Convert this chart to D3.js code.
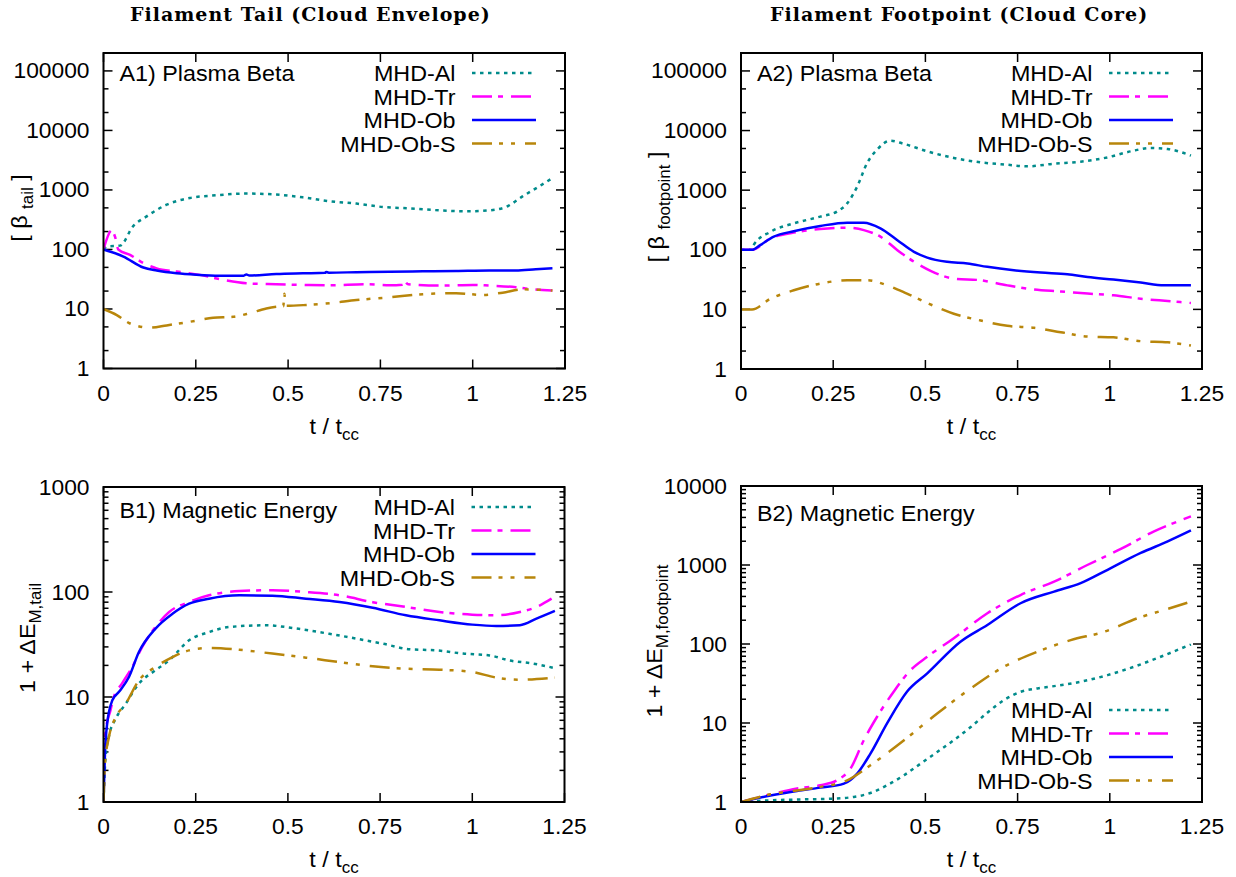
<!DOCTYPE html>
<html><head><meta charset="utf-8">
<script src="https://cdn.jsdelivr.net/npm/d3@7"></script>
<style>
body{margin:0;background:#fff}
svg{display:block}
</style>
</head><body>
<svg id="chart" width="1236" height="877"></svg>
<script>
// ---------------- data ----------------
const xTicks = [0, 0.25, 0.5, 0.75, 1, 1.25];
const xTickLabels = ["0", "0.25", "0.5", "0.75", "1", "1.25"];
const seriesNames = ["MHD-Al", "MHD-Tr", "MHD-Ob", "MHD-Ob-S"];
const seriesColors = ["#008b8b", "#ff00ff", "#0000ff", "#b8860b"];
const seriesDash = ["3.5,4.5", "20,6,5,8", null, "20,7,4,8,4,10"];
const columnTitles = ["Filament Tail (Cloud Envelope)", "Filament Footpoint (Cloud Core)"];
const panelLabels = ["A1) Plasma Beta", "A2) Plasma Beta", "B1) Magnetic Energy", "B2) Magnetic Energy"];
const betaTicks = [1, 10, 100, 1000, 10000, 100000];
const emagTailTicks = [1, 10, 100, 1000];
const emagFootTicks = [1, 10, 100, 1000, 10000];

// A1: plasma beta, filament tail  [t/tcc, beta]
const betaTailAl = [[0,100],[0.01,112],[0.045,116],[0.08,245],[0.117,360],[0.171,565],[0.234,733],[0.306,813],[0.387,870],[0.468,835],[0.54,752],[0.613,645],[0.685,590],[0.757,517],[0.829,490],[0.91,454],[0.982,437],[1.045,454],[1.09,517],[1.135,780],[1.18,1150],[1.216,1585]];
const betaTailTr = [[0,100],[0.0225,209],[0.0315,162],[0.04,100],[0.072,81],[0.108,59],[0.144,48],[0.198,42.6],[0.261,37.4],[0.324,30.8],[0.387,27],[0.468,26],[0.54,25.4],[0.613,25],[0.71,26],[0.775,25],[0.81,25.5],[0.815,29],[0.825,26],[0.91,24.7],[1.0,25.4],[1.045,24.7],[1.117,23.2],[1.162,21.5],[1.216,20.4]];
const betaTailOb = [[0,100],[0.054,76],[0.108,49.7],[0.144,44.3],[0.198,39.8],[0.261,37.4],[0.324,36],[0.38,36.3],[0.387,38],[0.395,36.5],[0.468,38.8],[0.54,39.8],[0.6,40.5],[0.603,42],[0.61,40.8],[0.685,41.5],[0.775,42.4],[0.865,43],[0.955,43.6],[1.045,44.3],[1.117,44.3],[1.171,46.6],[1.216,48.5]];
const betaTailObS = [[0,10],[0.036,7.9],[0.072,5.7],[0.126,4.85],[0.171,5.3],[0.234,6.1],[0.297,7.1],[0.351,7.4],[0.396,8.5],[0.441,10.2],[0.477,11],[0.487,11.1],[0.49,18],[0.493,11.3],[0.55,11.7],[0.613,12.5],[0.685,14.1],[0.775,15.7],[0.865,17.7],[0.955,18.4],[1.027,17.2],[1.081,18.8],[1.135,21.4],[1.216,20.4]];

// A2: plasma beta, filament footpoint
const betaFootAl = [[0,100],[0.03,100],[0.034,120],[0.08,200],[0.143,277],[0.215,360],[0.26,437],[0.288,600],[0.315,1150],[0.342,2850],[0.369,4790],[0.405,6780],[0.44,6030],[0.505,4480],[0.577,3470],[0.65,2925],[0.722,2670],[0.776,2510],[0.849,2780],[0.921,3000],[0.994,3550],[1.057,4480],[1.111,5100],[1.157,4900],[1.22,3800]];
const betaFootTr = [[0,100],[0.03,100],[0.08,155],[0.143,194],[0.215,223],[0.288,235],[0.333,214],[0.378,166],[0.424,98.6],[0.469,63],[0.514,44.3],[0.577,32.9],[0.65,30.8],[0.722,25.3],[0.795,21.5],[0.867,20],[0.94,18.4],[1.01,17.2],[1.084,15.1],[1.157,13.8],[1.22,12.8]];
const betaFootOb = [[0,100],[0.03,100],[0.052,120],[0.089,166],[0.143,205],[0.215,251],[0.288,285],[0.333,285],[0.378,229],[0.424,145],[0.469,92.5],[0.505,74],[0.559,62.8],[0.614,58.9],[0.668,51.7],[0.74,45.4],[0.813,41.5],[0.885,38.9],[0.94,35],[1.01,31.6],[1.084,28.2],[1.147,25.4],[1.22,25.4]];
const betaFootObS = [[0,10],[0.03,10],[0.08,15.1],[0.143,20.9],[0.215,27.1],[0.288,30.8],[0.342,30.8],[0.396,25.4],[0.45,18.4],[0.505,12.8],[0.577,8.45],[0.65,6.5],[0.722,5.3],[0.795,4.9],[0.867,4.15],[0.94,3.5],[1.01,3.4],[1.084,2.93],[1.157,2.8],[1.22,2.47]];

// B1: 1 + dE_M, filament tail
const emagTailAl = [[0,1],[0.005,2.5],[0.0145,4.2],[0.033,6.2],[0.06,8.6],[0.096,13.4],[0.141,18],[0.178,22.3],[0.232,34.7],[0.286,41.5],[0.34,46.4],[0.44,48.2],[0.522,44.9],[0.612,40],[0.685,36],[0.757,32.2],[0.83,28.5],[0.902,27.8],[0.975,25.9],[1.047,24.9],[1.1,22.3],[1.165,20.8],[1.219,19]];
const emagTailTr = [[0,1],[0.005,4.5],[0.019,7.5],[0.028,10],[0.05,13.4],[0.078,19.3],[0.105,30],[0.141,46.4],[0.178,64.5],[0.232,80.3],[0.286,93],[0.368,102],[0.458,104],[0.549,100],[0.64,93],[0.73,80],[0.82,72],[0.911,64.5],[1.0,60.8],[1.065,60],[1.129,64.5],[1.174,72],[1.215,86.4]];
const emagTailOb = [[0,1],[0.004,2.9],[0.01,5.6],[0.024,9.3],[0.042,11.2],[0.069,15.5],[0.096,26.8],[0.141,44.8],[0.187,62],[0.232,77.4],[0.286,86.4],[0.368,93],[0.458,92.3],[0.549,86.4],[0.64,80.3],[0.73,70.8],[0.82,60],[0.911,53.7],[1.0,48.9],[1.065,47.4],[1.129,48.2],[1.174,55.7],[1.224,66]];
const emagTailObS = [[0,1],[0.004,2.3],[0.015,4.2],[0.033,6.4],[0.06,8.6],[0.096,14.4],[0.141,19.3],[0.187,24],[0.232,27.8],[0.286,29.3],[0.368,28.2],[0.458,25.9],[0.549,23.7],[0.64,21.5],[0.73,19.6],[0.82,18.6],[0.911,18.2],[1.0,17.3],[1.065,15.3],[1.129,14.6],[1.224,15.3]];

// B2: 1 + dE_M, filament footpoint
const emagFootAl = [[0,1],[0.08,1.05],[0.17,1.08],[0.243,1.1],[0.306,1.16],[0.351,1.3],[0.396,1.63],[0.442,2.18],[0.487,3.06],[0.532,4.3],[0.577,6.06],[0.623,8.9],[0.668,13.5],[0.713,19.5],[0.758,24.8],[0.804,27.4],[0.849,29.3],[0.921,33.3],[0.994,40.4],[1.066,51.6],[1.138,69],[1.22,99]];
const emagFootTr = [[0,1],[0.08,1.25],[0.152,1.48],[0.215,1.63],[0.26,1.88],[0.297,2.65],[0.333,6.06],[0.369,12],[0.414,24.9],[0.46,46.8],[0.505,69],[0.577,118],[0.668,245],[0.758,417],[0.849,617],[0.939,1000],[1.03,1600],[1.12,2660],[1.22,4120]];
const emagFootOb = [[0,1],[0.08,1.21],[0.152,1.38],[0.215,1.52],[0.279,1.71],[0.315,2.29],[0.351,4.1],[0.396,9.9],[0.45,24.9],[0.505,42.5],[0.595,107],[0.668,174],[0.758,328],[0.849,461],[0.921,589],[0.994,870],[1.084,1420],[1.157,1990],[1.22,2737]];
const emagFootObS = [[0,1],[0.08,1.25],[0.152,1.4],[0.215,1.55],[0.288,1.88],[0.351,2.92],[0.442,6.06],[0.532,13.2],[0.623,27.4],[0.713,51.6],[0.804,80],[0.894,112],[0.985,143],[1.075,212],[1.148,270],[1.22,344]];

// ---------------- drawing ----------------
const SANS = "'Liberation Sans', Arial, Helvetica, sans-serif";
const SX = 1.06;   // horizontal stretch of the sans text, as in the original rendering
const svg = d3.select("#chart");
svg.append("rect").attr("width",1236).attr("height",877).attr("fill","#fff");

const panels = [
  {box:[103.5,565,53,368.5], yDomain:[1,2e5], yTicks:betaTicks, minor:[2,5],
   series:[betaTailAl,betaTailTr,betaTailOb,betaTailObS], label:panelLabels[0], labelDy:28,
   legendTop:true, ylab:[["[ β ",0],["tail",1],[" ]",0]], ylabX:27, ylabY:208},
  {box:[741,1202,53,369], yDomain:[1,2e5], yTicks:betaTicks, minor:[2,5],
   series:[betaFootAl,betaFootTr,betaFootOb,betaFootObS], label:panelLabels[1], labelDy:28,
   legendTop:true, ylab:[["[ β ",0],["footpoint",1],[" ]",0]], ylabX:664, ylabY:207},
  {box:[103.5,564.5,487,802], yDomain:[1,1000], yTicks:emagTailTicks, minor:[2,3,4,5,6,7,8,9],
   series:[emagTailAl,emagTailTr,emagTailOb,emagTailObS], label:panelLabels[2], labelDy:31,
   legendTop:true, ylab:[["1 + ΔE",0],["M,tail",1]], ylabX:35, ylabY:638},
  {box:[741,1202,486,802], yDomain:[1,10000], yTicks:emagFootTicks, minor:[2,3,4,5,6,7,8,9],
   series:[emagFootAl,emagFootTr,emagFootOb,emagFootObS], label:panelLabels[3], labelDy:35,
   legendTop:false, ylab:[["1 + ΔE",0],["M,footpoint",1]], ylabX:662, ylabY:641}
];

function sansText(g, x, y, anchor, size, rot){
  return g.append("text")
    .attr("transform", `translate(${x},${y})` + (rot?` rotate(${rot})`:"") + ` scale(${SX},1)`)
    .attr("text-anchor", anchor).attr("font-size", size)
    .style("font-family", SANS).attr("fill","#000");
}
function richText(t, parts, size, subSize, subDy){
  parts.forEach(([s,sub],i)=>{
    const prevSub = i>0 && parts[i-1][1];
    const ts = t.append("tspan").text(s).attr("font-size", sub?subSize:size);
    if(sub) ts.attr("dy", subDy);
    else if(prevSub) ts.attr("dy", -subDy);
  });
}

panels.forEach((p,pi)=>{
  const [L,R,T,B] = p.box;
  const x = d3.scaleLinear().domain([0,1.25]).range([L,R]);
  const y = d3.scaleLog().domain(p.yDomain).range([B,T]);
  const g = svg.append("g");
  const clipId = "clip"+pi;
  svg.append("clipPath").attr("id",clipId).append("rect")
     .attr("x",L).attr("y",T).attr("width",R-L).attr("height",B-T);

  // minor y ticks
  const minorVals = [];
  p.yTicks.forEach(v=>p.minor.forEach(m=>{const mv=v*m; if(mv<=p.yDomain[1]) minorVals.push(mv);}));
  minorVals.forEach(v=>{
    [[L,L+5],[R,R-5]].forEach(([a,b])=>g.append("line").attr("x1",a).attr("x2",b)
      .attr("y1",y(v)).attr("y2",y(v)).attr("stroke","#000").attr("stroke-width",1.5));
  });
  // major y ticks + labels
  p.yTicks.forEach(v=>{
    [[L,L+9],[R,R-9]].forEach(([a,b])=>g.append("line").attr("x1",a).attr("x2",b)
      .attr("y1",y(v)).attr("y2",y(v)).attr("stroke","#000").attr("stroke-width",1.5));
    sansText(g, L-14, y(v)+7.5, "end", 21.5).text(d3.format("d")(v));
  });
  // x ticks + labels
  xTicks.forEach((v,i)=>{
    [[B,B-9],[T,T+9]].forEach(([a,b])=>g.append("line").attr("x1",x(v)).attr("x2",x(v))
      .attr("y1",a).attr("y2",b).attr("stroke","#000").attr("stroke-width",1.5));
    sansText(g, x(v), B+32, "middle", 21.5).text(xTickLabels[i]);
  });
  // x label
  richText(sansText(g, (L+R)/2, B+65, "middle", 22), [["t / t",0],["cc",1]], 22, 16, 6);
  // y label
  richText(sansText(g, p.ylabX, p.ylabY, "middle", 22, -90), p.ylab, 22, 16, 6);

  // curves
  const line = d3.line().x(d=>x(d[0])).y(d=>y(d[1])).curve(d3.curveMonotoneX);
  const cg = g.append("g").attr("clip-path",`url(#${clipId})`);
  p.series.forEach((s,si)=>{
    cg.append("path").attr("d",line(s)).attr("fill","none")
      .attr("stroke",seriesColors[si]).attr("stroke-width",2.5)
      .attr("stroke-dasharray",seriesDash[si]);
  });

  // frame
  g.append("rect").attr("x",L).attr("y",T).attr("width",R-L).attr("height",B-T)
    .attr("fill","none").attr("stroke","#000").attr("stroke-width",2);

  // panel label
  sansText(g, L+16, T+p.labelDy, "start", 22).text(p.label);

  // legend
  const baseY = p.legendTop ? T+28 : B-84;
  seriesNames.forEach((n,si)=>{
    const by = baseY + si*23.5;
    sansText(g, R-109.5, by, "end", 22).text(n);
    g.append("line").attr("x1",R-93).attr("x2",R-29).attr("y1",by-8).attr("y2",by-8)
      .attr("stroke",seriesColors[si]).attr("stroke-width",2.5)
      .attr("stroke-dasharray",seriesDash[si]);
  });
});

// column titles
[[130,columnTitles[0]],[770,columnTitles[1]]].forEach(([tx,t])=>{
  svg.append("text").attr("x",tx).attr("y",21)
    .style("font-family","'DejaVu Serif', serif").style("font-weight","bold")
    .style("letter-spacing","1px")
    .attr("font-size",19).attr("fill","#000").text(t);
});
</script>
</body></html>
